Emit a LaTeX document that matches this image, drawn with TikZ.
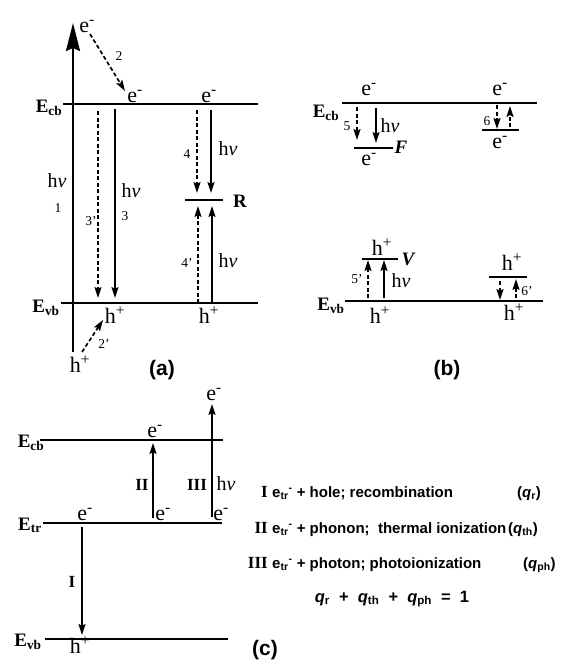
\documentclass[tikz,border=0pt]{standalone}
\usepackage{fontspec}
\setmainfont{Liberation Serif}
\newfontfamily\sansfam{Liberation Sans}
\usepackage{tikz}
\usetikzlibrary{arrows.meta}
\newcommand{\hnu}{h\textit{ν}}
\newcommand{\elec}{e\textsuperscript{-}}
\newcommand{\holec}{h\textsuperscript{+}}
\newcommand{\etr}{e\textsubscript{tr}\textsuperscript{-}}

\begin{document}
\begin{tikzpicture}[
  x=1pt, y=-1pt,
  lvl/.style={line width=1.1pt},
  arr/.style={-{Stealth[length=11pt,width=7pt,inset=2pt]}, line width=1.7pt},
  darr/.style={arr, dash pattern=on 4pt off 2.5pt},
  bigarr/.style={-{Stealth[length=28pt,width=14pt,inset=3pt]}, line width=2.5pt},
  car/.style={font=\fontsize{22}{22}\selectfont, anchor=base, inner sep=0pt},
  hv/.style={font=\fontsize{20}{20}\selectfont, anchor=base, inner sep=0pt},
  num/.style={font=\fontsize{13.5}{13.5}\selectfont, anchor=base, inner sep=0pt},
  band/.style={font=\fontsize{19}{19}\selectfont\bfseries, anchor=base, inner sep=0pt},
  defect/.style={font=\fontsize{19}{19}\selectfont\bfseries, anchor=base, inner sep=0pt},
  tag/.style={font=\sansfam\fontsize{21}{21}\selectfont\bfseries, anchor=base, inner sep=0pt},
  rom/.style={font=\fontsize{17}{17}\selectfont\bfseries, anchor=base east, inner sep=0pt},
  leg/.style={font=\sansfam\fontsize{15}{15}\selectfont\bfseries, anchor=base west, inner sep=0pt}
]
  \useasboundingbox (0,0) rectangle (563,662);

  % (a)
  \draw[lvl] (63,104) -- (258,104);
  \draw[lvl] (61,303) -- (258,303);
  \draw[lvl] (185,200) -- (223,200);
  \node[band] (ecbA) at (49,112) {E\textsubscript{cb}};
  \node[band] (evbA) at (46,312) {E\textsubscript{vb}};
  \node[defect] (defR) at (240,207) {R};
  \node[car] (eA0) at (87,32) {\elec};
  \node[car] (eA1) at (135,102) {\elec};
  \node[car] (eA2) at (209,102) {\elec};
  \node[car] (hA0) at (80,372) {\holec};
  \node[car] (hA1) at (115,323) {\holec};
  \node[car] (hA2) at (209,323) {\holec};
  \node[hv] (hv1) at (57,187) {\hnu};
  \node[num] (n1) at (58,212) {1};
  \node[num] (n2) at (119,60) {2};
  \node[num] (n3p) at (91,225) {3'};
  \node[num] (n3) at (125,220) {3};
  \node[hv] (hv3) at (131,197) {\hnu};
  \node[num] (n4) at (187,158) {4};
  \node[hv] (hv4) at (228,155) {\hnu};
  \node[num] (n4p) at (187,267) {4'};
  \node[hv] (hv4p) at (228,267) {\hnu};
  \node[num] (n2p) at (104,348) {2'};
  \node[tag] (tagA) at (162,375) {(a)};

  \coordinate (a1s) at (73,352);  \coordinate (a1e) at (73,23);
  \coordinate (a2s) at (90,34);   \coordinate (a2e) at (125,91);
  \coordinate (a3ps) at (98,111); \coordinate (a3pe) at (98,298);
  \coordinate (a3s) at (115,109); \coordinate (a3e) at (115,298);
  \coordinate (a4s) at (197,110); \coordinate (a4e) at (197,193);
  \coordinate (a4hs) at (211,110);\coordinate (a4he) at (211,193);
  \coordinate (a4ps) at (198,303);\coordinate (a4pe) at (198,206);
  \coordinate (a4qs) at (212,303);\coordinate (a4qe) at (212,206);
  \coordinate (a2ps) at (82,352); \coordinate (a2pe) at (103,320);

  \draw[bigarr] (a1s) -- (a1e);
  \draw[darr] (a2s) -- (a2e);
  \draw[darr] (a3ps) -- (a3pe);
  \draw[arr] (a3s) -- (a3e);
  \draw[darr] (a4s) -- (a4e);
  \draw[arr] (a4hs) -- (a4he);
  \draw[darr] (a4ps) -- (a4pe);
  \draw[arr] (a4qs) -- (a4qe);
  \draw[darr] (a2ps) -- (a2pe);

  % (b)
  \draw[lvl] (342,103) -- (537,103);
  \draw[lvl] (354,148) -- (393,148);
  \draw[lvl] (482,130) -- (519,130);
  \draw[lvl] (345,301) -- (543,301);
  \draw[lvl] (362,259) -- (398,259);
  \draw[lvl] (489,277) -- (527,277);
  \node[band] (ecbB) at (326,117) {E\textsubscript{cb}};
  \node[band] (evbB) at (331,310) {E\textsubscript{vb}};
  \node[defect] (defF) at (401,153) {\itshape F};
  \node[defect] (defV) at (408,265) {\itshape V};
  \node[car] (eB1) at (369,95) {\elec};
  \node[car] (eB2) at (500,95) {\elec};
  \node[car] (eB3) at (369,165) {\elec};
  \node[car] (eB4) at (500,148) {\elec};
  \node[car] (hB1) at (382,255) {\holec};
  \node[car] (hB2) at (380,323) {\holec};
  \node[car] (hB3) at (512,270) {\holec};
  \node[car] (hB4) at (514,320) {\holec};
  \node[num] (n5) at (347,130) {5};
  \node[hv] (hv5) at (390,132) {\hnu};
  \node[num] (n6) at (487,125) {6};
  \node[num] (n5p) at (357,283) {5'};
  \node[hv] (hv5p) at (401,287) {\hnu};
  \node[num] (n6p) at (527,295) {6'};
  \node[tag] (tagB) at (447,375) {(b)};

  \coordinate (b5s) at (357,107);  \coordinate (b5e) at (357,140);
  \coordinate (b5hs) at (376,108); \coordinate (b5he) at (376,143);
  \coordinate (b6s) at (497,105);  \coordinate (b6e) at (497,129);
  \coordinate (b6us) at (510,127); \coordinate (b6ue) at (510,106);
  \coordinate (b5ps) at (368,298); \coordinate (b5pe) at (368,260);
  \coordinate (b5qs) at (384,298); \coordinate (b5qe) at (384,260);
  \coordinate (b6ps) at (500,281); \coordinate (b6pe) at (500,300);
  \coordinate (b6qs) at (516,298); \coordinate (b6qe) at (516,279);

  \draw[darr] (b5s) -- (b5e);
  \draw[arr] (b5hs) -- (b5he);
  \draw[darr] (b6s) -- (b6e);
  \draw[darr] (b6us) -- (b6ue);
  \draw[darr] (b5ps) -- (b5pe);
  \draw[arr] (b5qs) -- (b5qe);
  \draw[darr] (b6ps) -- (b6pe);
  \draw[darr] (b6qs) -- (b6qe);

  % (c)
  \draw[lvl] (40,440) -- (223,440);
  \draw[lvl] (43,523) -- (222,523);
  \draw[lvl] (45,639) -- (228,639);
  \node[band] (ecbC) at (31,447) {E\textsubscript{cb}};
  \node[band] (etrC) at (30,530) {E\textsubscript{tr}};
  \node[band] (evbC) at (28,646) {E\textsubscript{vb}};
  \node[car] (eC1) at (155,437) {\elec};
  \node[car] (eC2) at (214,400) {\elec};
  \node[car] (eC3) at (85,520) {\elec};
  \node[car] (eC4) at (163,520) {\elec};
  \node[car] (eC5) at (221,520) {\elec};
  \node[car] (hC1) at (80,653) {\holec};
  \node[rom, anchor=base] (rI) at (72,587) {I};
  \node[rom, anchor=base] (rII) at (142,490) {II};
  \node[rom, anchor=base] (rIII) at (197,490) {III};
  \node[hv] (hvC) at (226,490) {\hnu};
  \node[tag] (tagC) at (265,655) {(c)};

  \coordinate (cIs) at (82,527);    \coordinate (cIe) at (82,635);
  \coordinate (cIIs) at (153,518);  \coordinate (cIIe) at (153,443);
  \coordinate (cIIIs) at (212,517); \coordinate (cIIIe) at (212,404);

  \draw[arr] (cIs) -- (cIe);
  \draw[arr] (cIIs) -- (cIIe);
  \draw[arr] (cIIIs) -- (cIIIe);

  \node[rom] (lI) at (268,497) {I};
  \node[rom] (lII) at (268,533) {II};
  \node[rom] (lIII) at (268,568) {III};
  \node[leg] (tI) at (272,497) {\etr\ + hole; recombination};
  \node[leg] (tII) at (272,533) {\etr\ + phonon;\ \ thermal ionization};
  \node[leg] (tIII) at (272,568) {\etr\ + photon; photoionization};
  \node[leg] (qI) at (517,497) {({\itshape q}\textsubscript{r})};
  \node[leg] (qII) at (508,533) {({\itshape q}\textsubscript{th})};
  \node[leg] (qIII) at (523,568) {({\itshape q}\textsubscript{ph})};
  \node[leg, anchor=base, font=\sansfam\fontsize{16.5}{16.5}\selectfont\bfseries] (sumq) at (392,602) {{\itshape q}\textsubscript{r}\ \ +\ \ {\itshape q}\textsubscript{th}\ \ +\ \ {\itshape q}\textsubscript{ph}\ \ =\ \ 1};
\end{tikzpicture}
\end{document}
